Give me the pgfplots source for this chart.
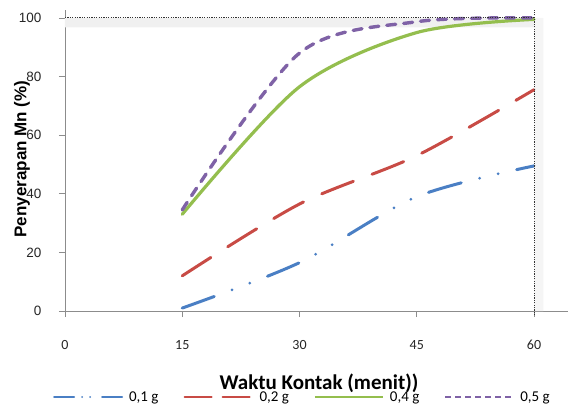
\documentclass[border=0pt]{standalone}
\usepackage{fontspec}
\setmainfont{Carlito}
\newfontfamily\arialf{Liberation Sans}
\usepackage{pgfplots}
\pgfplotsset{compat=1.18}
\definecolor{cblue}{HTML}{4A7FC4}
\definecolor{cred}{HTML}{C84B45}
\definecolor{cgreen}{HTML}{94BE4E}
\definecolor{cpurple}{HTML}{7F62A6}
\begin{document}
\begin{tikzpicture}
\begin{axis}[
  at={(0,0)}, anchor=south west,
  scale only axis, width=503bp, height=301bp,
  xmin=0, xmax=64.35, ymin=0, ymax=102.7,
  clip=false,
  /pgf/number format/assume math mode=true,
  axis x line*=bottom, axis y line*=left,
  axis line style={black!45, line width=0.8bp, -},
  xtick={0,15,30,45,60}, ytick={0,20,40,60,80,100},
  tick align=outside, major tick length=6bp,
  tick style={black!45, line width=0.8bp},
  xticklabel style={font=\fontsize{14bp}{16bp}\selectfont, text=black!85, yshift=-20bp},
  yticklabel style={font=\arialf\fontsize{13.5bp}{15bp}\selectfont, text=black!85, xshift=-14bp},
  xlabel={Waktu Kontak (menit))},
  ylabel={Penyerapan Mn (\%)},
  xlabel style={font=\bfseries\fontsize{21bp}{23bp}\selectfont, at={(axis description cs:0.505,-0.239)}, anchor=center},
  ylabel style={font=\arialf\bfseries\fontsize{17bp}{19bp}\selectfont, at={(axis description cs:-0.0855,0.505)}, anchor=center, rotate=0},
  legend columns=4,
  legend style={at={(axis description cs:0.472,-0.286)}, anchor=center, draw=none, fill=none,
    font=\fontsize{15bp}{17bp}\selectfont, inner sep=0pt,
    /tikz/every odd column/.append style={column sep=4bp},
    /tikz/every even column/.append style={column sep=23bp}},
  legend image code/.code={\draw[#1] (0bp,0bp) -- (68bp,0bp);},
]
\addlegendimage{cblue, line width=2bp, line cap=round, dash pattern=on 20bp off 8bp on 0bp off 8bp on 0bp off 12bp}
\addlegendentry{0,1 g}
\addlegendimage{cred, line width=2bp, line cap=round, dash pattern=on 27bp off 11bp}
\addlegendentry{0,2 g}
\addlegendimage{cgreen, line width=2bp}
\addlegendentry{0,4 g}
\addlegendimage{cpurple, line width=2bp, dash pattern=on 6bp off 4bp}
\addlegendentry{0,5 g}

% shadow under reference line
\addplot[draw=none, fill=black!6, forget plot] coordinates {(0,100)(60,100)(60,96.8)(0,96.8)(0,100)};
\addplot[draw=none, fill=black!4, forget plot] coordinates {(60,100)(61.2,100)(61.2,0)(60,0)(60,100)};

\addplot[cblue, line width=3bp, line cap=round, smooth, tension=0.5, forget plot,
  dash pattern=on 34bp off 19bp on 0bp off 19bp on 0bp off 19bp]
  coordinates {(15,1) (30,16.5) (45,39) (60,49.5)};
\addplot[cred, line width=3bp, line cap=round, smooth, tension=0.5, forget plot,
  dash pattern=on 34bp off 20bp]
  coordinates {(15,12) (30,36.5) (45,53) (60,75.5)};
\addplot[cgreen, line width=3.2bp, line cap=round, smooth, tension=0.5, forget plot]
  coordinates {(15,33) (30,76.5) (45,95) (60,99.5)};
\addplot[cpurple, line width=3.4bp, line cap=round, smooth, tension=0.5, forget plot,
  dash pattern=on 9bp off 8bp]
  coordinates {(15,34.5) (30,88) (45,98.7) (60,100)};

% dotted reference lines
\addplot[black!80, line width=0.9bp, dash pattern=on 1.2bp off 1.2bp, forget plot]
  coordinates {(0,100) (60,100)};
\addplot[black!80, line width=0.9bp, dash pattern=on 1.2bp off 1.2bp, forget plot]
  coordinates {(60,-1.5) (60,102.7)};
\end{axis}
\pgfresetboundingbox
\useasboundingbox (-65bp,-93bp) rectangle (508bp,311bp);
\end{tikzpicture}
\end{document}
